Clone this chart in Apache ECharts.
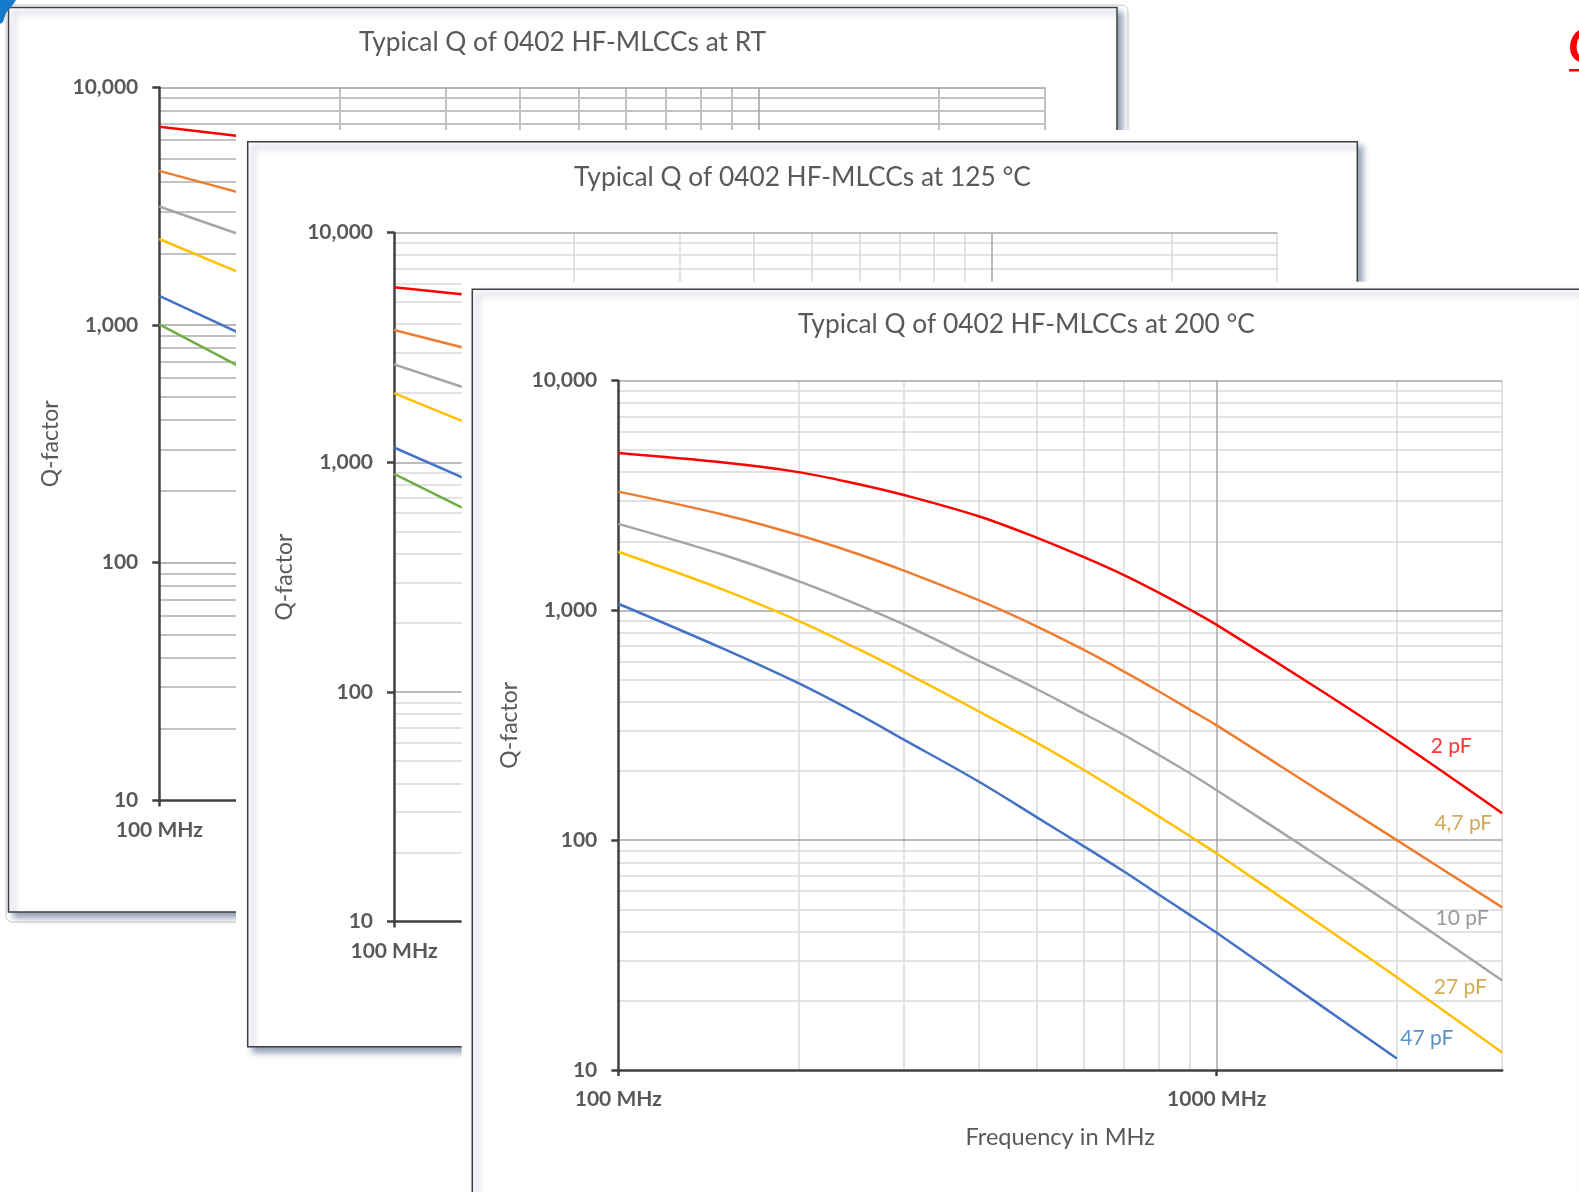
<!DOCTYPE html>
<html><head><meta charset="utf-8">
<script src="https://cdn.jsdelivr.net/npm/echarts@6/dist/echarts.min.js"></script>
<style>html,body{margin:0;padding:0;background:#fff;overflow:hidden}#c{width:1579px;height:1192px}</style>
</head><body><div id="c"></div>
<script>
// ---------------- DATA ----------------
// 200 °C panel (fully visible)
const freq200 = [100, 150, 200, 250, 300, 400, 500, 600, 700, 800, 900, 1000, 1500, 2000, 3000];
const q200_2pF   = [4840, 4400, 4000, 3560, 3180, 2570, 2075, 1705, 1425, 1195, 1012, 865, 445, 272, 131];
const q200_4p7pF = [3290, 2610, 2130, 1770, 1490, 1108, 853, 673, 542, 445, 371, 316, 161, 100, 51];
const q200_10pF  = [2380, 1742, 1341, 1066, 869, 605, 455, 355, 287, 235, 196, 165, 83, 50.5, 24.5];
const q200_27pF  = [1800, 1229, 901, 685, 540, 364, 266, 202, 158, 127, 104.5, 87.5, 42.5, 25.3, 11.9];
const freq200_47 = [100, 150, 200, 250, 300, 400, 500, 600, 700, 800, 900, 1000, 1500, 2000];
const q200_47pF  = [1069, 680, 482, 357, 274, 180, 126, 94, 73, 58, 47.4, 39.5, 18.9, 11.2];

// RT and 125 °C panels (only the start near 100 MHz is visible)
const freqEdge = [100, 125, 150];
const qRT_2pF   = [6820, 6385, 6050];
const qRT_4p7pF = [4450, 3820, 3375];
const qRT_10pF  = [3150, 2590, 2210];
const qRT_27pF  = [2300, 1818, 1503];
const qRT_47pF  = [1325, 1021, 824];
const qRT_100pF = [1007, 748, 586];
const q125_2pF   = [5780, 5450, 5190];
const q125_4p7pF = [3770, 3250, 2877];
const q125_10pF  = [2670, 2203, 1884];
const q125_27pF  = [2000, 1578, 1303];
const q125_47pF  = [1160, 900, 729];
const q125_100pF = [890, 668, 529];

// curve labels of the 200 °C panel (anchor in data space)
const labelText = ['2 pF', '4,7 pF', '10 pF', '27 pF', '47 pF'];
const labelFreq = [2466, 2583, 2571, 2553, 2244];
const labelQ    = [252, 116.6, 44.9, 22.5, 13.4];

// axis ticks
const yTickValues = [10, 100, 1000, 10000];
const xTickValues = [100, 1000];
const minorX = [200, 300, 400, 500, 600, 700, 800, 900, 2000, 3000];
const majorX = [1000];
const minorY = [20, 30, 40, 50, 60, 70, 80, 90, 200, 300, 400, 500, 600, 700, 800, 900,
                2000, 3000, 4000, 5000, 6000, 7000, 8000, 9000];
const majorY = [100, 1000, 10000];

// ---------------- STYLE / LAYOUT ----------------
const FONT = 'Lato, "Noto Sans", sans-serif';
const INK = '#595959';
const AXIS = '#404040';
const C = { red: '#FF0000', orange: '#ED7D31', gray: '#A5A5A5', yellow: '#FFC000', blue: '#4472C4', green: '#70AD47' };
const labelColor = ['#FF0000', '#C4962A', '#7F7F7F', '#C4962A', '#2E75B6'];

const panels = [
  { title: 'Typical Q of 0402 HF-MLCCs at RT', cx: 562.5, ty: 29.5,
    grid: { left: 159.3, top: 87.3, width: 885.5, height: 713.1 },
    minor: '#c3c3c3', minorW: 2, major: '#a0a0a0',
    series: [
      [freqEdge, qRT_2pF, C.red], [freqEdge, qRT_4p7pF, C.orange], [freqEdge, qRT_10pF, C.gray],
      [freqEdge, qRT_27pF, C.yellow], [freqEdge, qRT_47pF, C.blue], [freqEdge, qRT_100pF, C.green]] },
  { title: 'Typical Q of 0402 HF-MLCCs at 125 °C', cx: 802.5, ty: 164.5,
    grid: { left: 394, top: 232.7, width: 883.2, height: 688.8 },
    minor: '#d9d9d9', minorW: 1.5, major: '#a6a6a6',
    series: [
      [freqEdge, q125_2pF, C.red], [freqEdge, q125_4p7pF, C.orange], [freqEdge, q125_10pF, C.gray],
      [freqEdge, q125_27pF, C.yellow], [freqEdge, q125_47pF, C.blue], [freqEdge, q125_100pF, C.green]] },
  { title: 'Typical Q of 0402 HF-MLCCs at 200 °C', cx: 1026.5, ty: 311.5,
    grid: { left: 618.3, top: 380.7, width: 883.9, height: 689.2 },
    minor: '#d9d9d9', minorW: 1.5, major: '#a6a6a6',
    series: [
      [freq200, q200_2pF, C.red], [freq200, q200_4p7pF, C.orange], [freq200, q200_10pF, C.gray],
      [freq200, q200_27pF, C.yellow], [freq200_47, q200_47pF, C.blue]] }
];

const option = { animation: false, backgroundColor: '#ffffff',
  grid: [], xAxis: [], yAxis: [], title: [], series: [], graphic: { elements: [] } };

panels.forEach((p, i) => {
  option.grid.push(Object.assign({ show: false, containLabel: false, outerBoundsMode: 'none', zlevel: i, z: 2 }, p.grid));
  const labelFont = { fontFamily: FONT, fontSize: 21, fontWeight: 'bold', color: INK };
  option.xAxis.push({
    type: 'log', logBase: 10, min: 100, max: 3000, gridIndex: i, zlevel: i, z: 3,
    axisLine: { show: true, onZero: false, lineStyle: { color: AXIS, width: 2.5 } },
    axisTick: { show: true, customValues: xTickValues, length: 6, lineStyle: { color: AXIS, width: 2.5 } },
    axisLabel: Object.assign({ customValues: xTickValues, margin: 19, formatter: v => Math.round(v) + ' MHz' }, labelFont),
    minorTick: { show: false }, splitLine: { show: false },
    name: 'Frequency in MHz', nameLocation: 'middle', nameGap: 55,
    nameTextStyle: { fontFamily: FONT, fontSize: 23.6, color: INK }
  });
  option.yAxis.push({
    type: 'log', logBase: 10, min: 10, max: 10000, gridIndex: i, zlevel: i, z: 3,
    axisLine: { show: true, onZero: false, lineStyle: { color: AXIS, width: 2.5 } },
    axisTick: { show: true, customValues: yTickValues, length: 7, lineStyle: { color: AXIS, width: 2.5 } },
    axisLabel: Object.assign({ customValues: yTickValues, margin: 21, formatter: v => Math.round(v).toLocaleString('en-US') }, labelFont),
    minorTick: { show: false }, splitLine: { show: false },
    name: 'Q-factor', nameLocation: 'middle', nameGap: 97,
    nameTextStyle: { fontFamily: FONT, fontSize: 23, color: INK }
  });
  option.title.push({ text: p.title, left: p.cx, top: p.ty, textAlign: 'center', padding: 0, zlevel: i, z: 6,
    textStyle: { fontFamily: FONT, fontSize: 26.3, fontWeight: 'normal', color: INK } });

  const vLines = v => ({ coords: [[v, 10], [v, 10000]] });
  const hLines = v => ({ coords: [[100, v], [3000, v]] });
  option.series.push({ type: 'lines', coordinateSystem: 'cartesian2d', xAxisIndex: i, yAxisIndex: i,
    zlevel: i, z: 2, silent: true, polyline: false,
    lineStyle: { color: p.minor, width: p.minorW, opacity: 1, curveness: 0 },
    data: minorX.map(vLines).concat(minorY.map(hLines)) });
  option.series.push({ type: 'lines', coordinateSystem: 'cartesian2d', xAxisIndex: i, yAxisIndex: i,
    zlevel: i, z: 2, silent: true, polyline: false,
    lineStyle: { color: p.major, width: 1.5, opacity: 1, curveness: 0 },
    data: majorX.map(vLines).concat(majorY.map(hLines)) });

  p.series.forEach(([fx, qy, col]) => {
    option.series.push({ type: 'line', xAxisIndex: i, yAxisIndex: i, zlevel: i, z: 4, silent: true,
      symbol: 'none', smooth: fx.length > 3 ? 0.35 : false, clip: true,
      lineStyle: { color: col, width: 2.5 }, itemStyle: { color: col },
      data: fx.map((f, k) => [f, qy[k]]) });
  });
});

// curve labels on the 200 °C panel
option.series.push({ type: 'scatter', xAxisIndex: 2, yAxisIndex: 2, zlevel: 2, z: 5, silent: true,
  symbolSize: 0, itemStyle: { color: 'rgba(0,0,0,0)' },
  label: { show: true, position: 'inside', offset: [0, -2], fontFamily: FONT, fontSize: 21, textBorderWidth: 0 },
  data: labelFreq.map((f, k) => ({ value: [f, labelQ[k]],
    label: { formatter: labelText[k], color: labelColor[k] } })) });

// frames / sheets
const shadow = { shadowBlur: 6, shadowOffsetX: 5, shadowOffsetY: 5, shadowColor: 'rgba(70,85,125,0.55)' };
const G = option.graphic.elements;
G.push({ type: 'rect', zlevel: 0, z: 0, silent: true, shape: { x: 6, y: 5, width: 1122, height: 917, r: 6 },
  style: { fill: '#fff', stroke: '#c9c9c9', lineWidth: 1 } });
G.push({ type: 'rect', zlevel: 0, z: 1, silent: true, shape: { x: 8.5, y: 7.5, width: 1108.5, height: 904.5 },
  style: Object.assign({ fill: '#fff', stroke: '#3f3f3f', lineWidth: 1.5 }, shadow) });
G.push({ type: 'rect', zlevel: 1, z: 0, silent: true, shape: { x: 236, y: 130, width: 1136, height: 929 },
  style: { fill: '#fff' } });
G.push({ type: 'rect', zlevel: 1, z: 1, silent: true, shape: { x: 247.7, y: 141.7, width: 1109.6, height: 905 },
  style: Object.assign({ fill: '#fff', stroke: '#3f3f3f', lineWidth: 1.5 }, shadow) });
G.push({ type: 'rect', zlevel: 2, z: 0, silent: true, shape: { x: 461.7, y: 281.7, width: 1200, height: 1000 },
  style: { fill: '#fff' } });
G.push({ type: 'rect', zlevel: 2, z: 1, silent: true, shape: { x: 472.3, y: 289.3, width: 1108.7, height: 1000 },
  style: Object.assign({ fill: '#fff', stroke: '#3f3f3f', lineWidth: 1.5 }, shadow) });
// corner decorations (cut-off icon and heading outside the sheets)
G.push({ type: 'polygon', zlevel: 3, z: 0, silent: true,
  shape: { points: [[0, 0], [16, 0], [12, 6], [6, 13], [3, 22], [0, 24]] }, style: { fill: '#1479C9' } });
G.push({ type: 'text', zlevel: 3, z: 0, silent: true, x: 1568, y: 22,
  style: { text: 'Q', font: 'italic bold 50px ' + FONT, fill: '#FF0000' } });
G.push({ type: 'rect', zlevel: 3, z: 0, silent: true, shape: { x: 1569, y: 69, width: 12, height: 2.5 },
  style: { fill: '#FF0000' } });

const chart = echarts.init(document.getElementById('c'), null, { renderer: 'canvas' });
chart.setOption(option);
</script>
</body></html>
